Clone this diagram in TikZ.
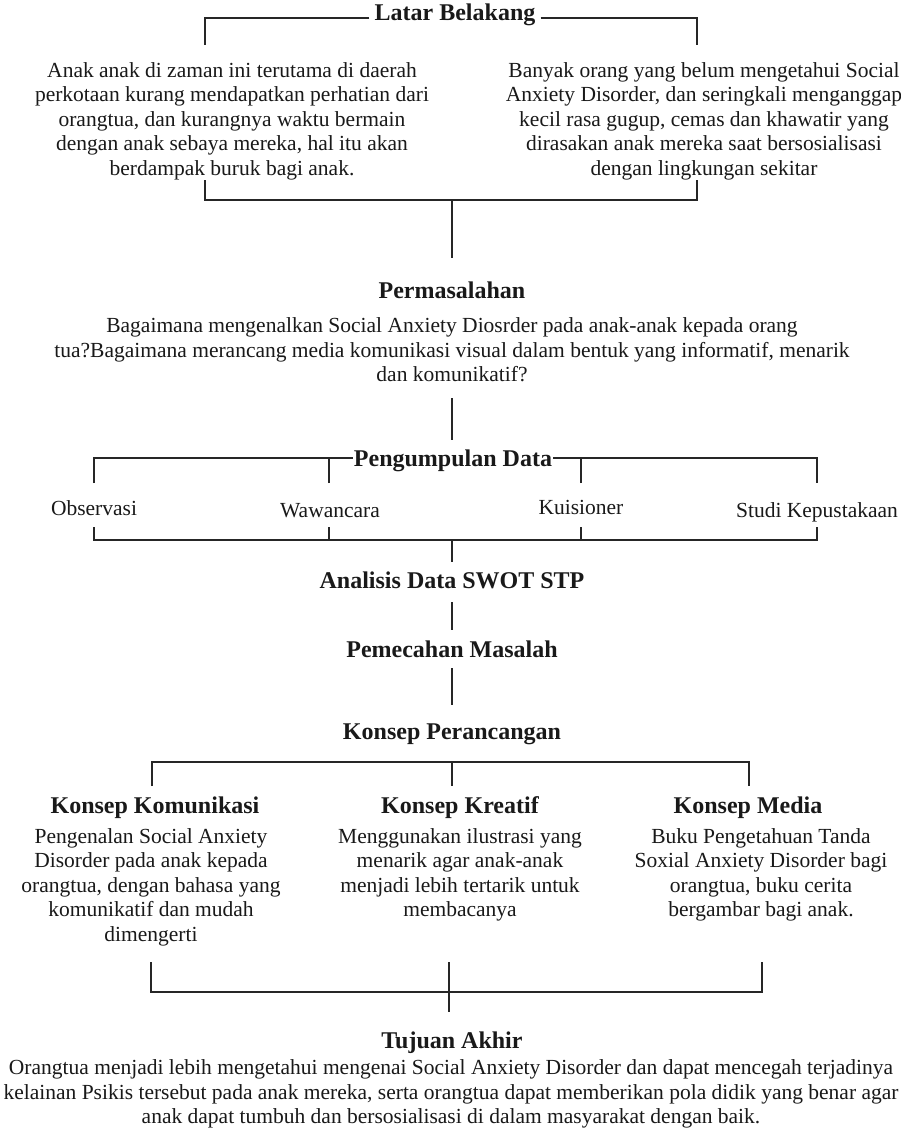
\documentclass[tikz,border=0pt]{standalone}
\usepackage{fontspec}
\setmainfont{Liberation Serif}
\usetikzlibrary{calc}
\begin{document}
\begin{tikzpicture}[x=1pt,y=-1pt,
  ln/.style={line width=1.2pt, draw=black!85},
  hd/.style={font=\fontsize{24}{28}\selectfont\bfseries, inner sep=0pt, text=black!90},
  bd/.style={font=\fontsize{21.5}{24.5}\selectfont, align=center, inner sep=0pt, text=black!90}]
\useasboundingbox (0,0) rectangle (901,1133);
\fill[white] (0,0) rectangle (901,1133);

% ---- Latar Belakang
\node[hd] (lb) at (455,15) {Latar Belakang};
\coordinate (lbL) at (205,45);
\coordinate (lbR) at (697,45);
\draw[ln] ($(lb.west)+(-5,3)$) -| (lbL);
\draw[ln] ($(lb.east)+(5,3)$) -| (lbR);

\node[bd] (t1) at (232,121) {Anak anak di zaman ini terutama di daerah\\perkotaan kurang mendapatkan perhatian dari\\orangtua, dan kurangnya waktu bermain\\dengan anak sebaya mereka, hal itu akan\\berdampak buruk bagi anak.};
\node[bd] (t2) at (704,121) {Banyak orang yang belum mengetahui Social\\Anxiety Disorder, dan seringkali menganggap\\kecil rasa gugup, cemas dan khawatir yang\\dirasakan anak mereka saat bersosialisasi\\dengan lingkungan sekitar};

\coordinate (b1L) at (205,180);
\coordinate (b1R) at (697,180);
\coordinate (b1M) at (452,200);
\coordinate (b1E) at (452,258);
\draw[ln] (b1L) |- (b1M) -| (b1R);
\draw[ln] (b1M) -- (b1E);

% ---- Permasalahan
\node[hd] (perm) at (452,290) {Permasalahan};
\node[bd] (permt) at (452,350) {Bagaimana mengenalkan Social Anxiety Diosrder pada anak-anak kepada orang\\tua?Bagaimana merancang media komunikasi visual dalam bentuk yang informatif, menarik\\dan komunikatif?};
\coordinate (p1) at (452,398);
\coordinate (p2) at (452,440);
\draw[ln] (p1) -- (p2);

% ---- Pengumpulan Data
\coordinate (pdL) at (94,483);
\coordinate (pdA) at (329,483);
\coordinate (pdB) at (581,483);
\coordinate (pdR) at (817,483);
\coordinate (pdT) at (452,458);
\draw[ln] (pdL) |- (pdT) -| (pdR);
\draw[ln] (pdA) -- (pdA |- pdT);
\draw[ln] (pdB) -- (pdB |- pdT);
\node[hd, fill=white, inner xsep=0.5pt] (pd) at (453,461) {Pengumpulan Data};

\node[bd, anchor=base] (obs) at (94,515) {Observasi};
\node[bd, anchor=base] (waw) at (330,517) {Wawancara};
\node[bd, anchor=base] (kui) at (581,514) {Kuisioner};
\node[bd, anchor=base] (stu) at (817,517) {Studi Kepustakaan};

\coordinate (qL) at (94,527);
\coordinate (qA) at (329,527);
\coordinate (qB) at (581,527);
\coordinate (qR) at (817,527);
\coordinate (qM) at (452,540);
\coordinate (qE) at (452,562);
\draw[ln] (qL) |- (qM) -| (qR);
\draw[ln] (qA) -- (qA |- qM);
\draw[ln] (qB) -- (qB |- qM);
\draw[ln] (qM) -- (qE);

% ---- Analisis
\node[hd] (an) at (452,580) {Analisis Data SWOT STP};
\coordinate (a1) at (452,602);
\coordinate (a2) at (452,630);
\draw[ln] (a1) -- (a2);

\node[hd] (pm) at (452,649) {Pemecahan Masalah};
\coordinate (m1) at (452,668);
\coordinate (m2) at (452,705);
\draw[ln] (m1) -- (m2);

\node[hd] (kp) at (452,734) {Konsep Perancangan};

\coordinate (kL) at (152,786);
\coordinate (kM) at (452,786);
\coordinate (kR) at (749,786);
\coordinate (kT) at (452,762);
\draw[ln] (kL) |- (kT) -| (kR);
\draw[ln] (kT) -- (kM);

\node[hd] (kk) at (155,808) {Konsep Komunikasi};
\node[hd] (kr) at (460,808) {Konsep Kreatif};
\node[hd] (km) at (748,808) {Konsep Media};

\node[bd] (kkt) at (151,887) {Pengenalan Social Anxiety\\Disorder pada anak kepada\\orangtua, dengan bahasa yang\\komunikatif dan mudah\\dimengerti};
\node[bd] (krt) at (460,875) {Menggunakan ilustrasi yang\\menarik agar anak-anak\\menjadi lebih tertarik untuk\\membacanya};
\node[bd] (kmt) at (761,875) {Buku Pengetahuan Tanda\\Soxial Anxiety Disorder bagi\\orangtua, buku cerita\\bergambar bagi anak.};

\coordinate (zL) at (151,962);
\coordinate (zR) at (762,962);
\coordinate (zT) at (449,962);
\coordinate (zM) at (449,992);
\coordinate (zE) at (449,1012);
\draw[ln] (zL) |- (zM) -| (zR);
\draw[ln] (zT) -- (zE);

\node[hd] (ta) at (452,1043) {Tujuan Akhir};
\node[bd] (tat) at (451,1094) {Orangtua menjadi lebih mengetahui mengenai Social Anxiety Disorder dan dapat mencegah terjadinya\\kelainan Psikis tersebut pada anak mereka, serta orangtua dapat memberikan pola didik yang benar agar\\anak dapat tumbuh dan bersosialisasi di dalam masyarakat dengan baik.};
\end{tikzpicture}
\end{document}
